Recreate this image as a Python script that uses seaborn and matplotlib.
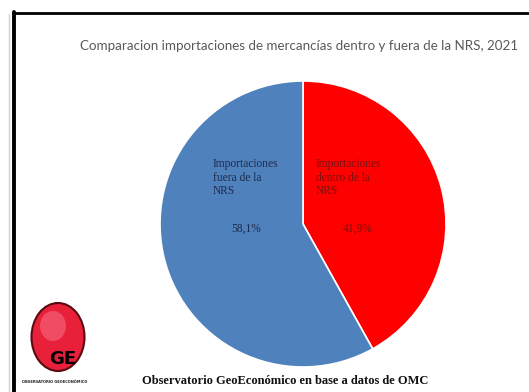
import matplotlib
matplotlib.use("Agg")
import matplotlib.pyplot as plt
from matplotlib.patches import Ellipse
from matplotlib.lines import Line2D
import seaborn as sns

# Import shares, 2021
categories = ["Importaciones\ndentro de la\nNRS", "Importaciones\nfuera de la\nNRS"]
shares = [41.9, 58.1]
share_labels = ["41,9%", "58,1%"]
colors = ["#FF0000", "#4F81BD"]
text_colors = ["#7A1010", "#1E2A4A"]

title = "Comparacion importaciones de mercancías dentro y fuera de la NRS, 2021"
source = "Observatorio GeoEconómico en base a datos de OMC"

sns.set_style("white")

W, H = 529, 392
fig = plt.figure(figsize=(W / 100, H / 100), dpi=100)
fig.patch.set_facecolor("white")

# Pie axes: centre (303, 224) px, radius 143 px
cx, cy, r = 303, 224, 143
ax = fig.add_axes([(cx - r) / W, (H - cy - r) / H, 2 * r / W, 2 * r / H])
wedges, _ = ax.pie(shares, colors=colors, startangle=90, counterclock=False,
                   radius=1.0, wedgeprops=dict(edgecolor="white", linewidth=1.2))
ax.set_xlim(-1, 1)
ax.set_ylim(-1, 1)
ax.set_aspect("equal")
ax.axis("off")

serif = "Liberation Serif"
# category names inside the slices
ax.text(0.09, 0.46, categories[0], ha="left", va="top", fontsize=8.3,
        family=serif, color=text_colors[0], linespacing=1.15)
ax.text(-0.63, 0.46, categories[1], ha="left", va="top", fontsize=8.3,
        family=serif, color=text_colors[1], linespacing=1.15)
ax.text(0.38, -0.035, share_labels[0], ha="center", va="center", fontsize=8.3,
        family=serif, color=text_colors[0])
ax.text(-0.40, -0.035, share_labels[1], ha="center", va="center", fontsize=8.3,
        family=serif, color=text_colors[1])

# Title, sized so it stays inside the right edge
t = fig.text(80 / W, 1 - 46 / H, title, ha="left", va="center", fontsize=9.6,
             family="Lato", color="#595959")
renderer = fig.canvas.get_renderer()
tw = t.get_window_extent(renderer).width
avail = 525 - 80
if tw > avail:
    t.set_fontsize(9.6 * avail / tw)

# Source line
fig.text(285 / W, 1 - 381 / H, source, ha="center", va="center", fontsize=9,
         family=serif, fontweight="bold", color="#111111")

# Frame lines (left and top)
fig.add_artist(Line2D([13.5 / W, 13.5 / W], [0, 1 - 12 / H], color="black",
                      linewidth=2.8, transform=fig.transFigure))
fig.add_artist(Line2D([12.5 / W, 1], [1 - 12.5 / H, 1 - 12.5 / H], color="black",
                      linewidth=2.0, transform=fig.transFigure))
fig.add_artist(Line2D([8.5 / W, 8.5 / W], [0, 1 - 14 / H], color="#cfcfcf",
                      linewidth=1.0, transform=fig.transFigure))

# Logo
lax = fig.add_axes([25 / W, 1 - 378 / H, 66 / W, 78 / H])
lax.set_xlim(0, 66)
lax.set_ylim(0, 78)
lax.axis("off")
lax.add_patch(Ellipse((33, 41), 53, 68, facecolor="#E8203A", edgecolor="#5A0A10",
                      linewidth=1.5))
lax.add_patch(Ellipse((28, 52), 26, 30, facecolor="#F76A80", edgecolor="none", alpha=0.6))
lax.text(38, 19, "GE", ha="center", va="center", fontsize=13, fontweight="bold",
         color="black", family="DejaVu Sans")
fig.text(55 / W, 1 - 382 / H, "OBSERVATORIO GEOECONÓMICO", ha="center", va="center",
         fontsize=2.6, fontweight="bold", color="#222222")

fig.savefig("out.png", dpi=100, facecolor="white")
